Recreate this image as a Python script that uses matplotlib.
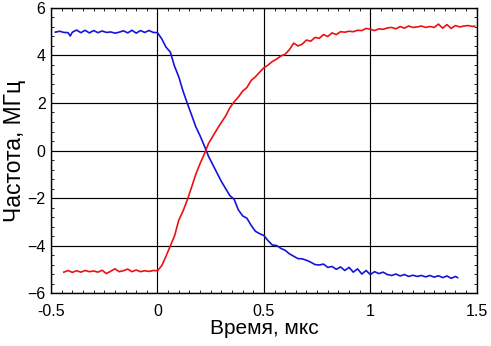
import matplotlib
matplotlib.use('Agg')
import matplotlib.pyplot as plt
from matplotlib.ticker import MultipleLocator

plt.rcParams['font.family'] = ['Liberation Sans', 'DejaVu Sans']

# --- data ---
blue_t = [-0.48, -0.46, -0.44, -0.42, -0.41, -0.40, -0.38, -0.36, -0.34, -0.32, -0.30,
          -0.28, -0.26, -0.24, -0.22, -0.20, -0.18, -0.16, -0.14, -0.12, -0.10,
          -0.08, -0.06, -0.04, -0.02, 0.00, 0.02, 0.04, 0.06, 0.08, 0.10,
          0.12, 0.14, 0.16, 0.18, 0.20, 0.22, 0.24, 0.26, 0.28, 0.30,
          0.32, 0.34, 0.36, 0.38, 0.40, 0.42, 0.44, 0.46, 0.48, 0.50,
          0.52, 0.54, 0.56, 0.58, 0.60, 0.62, 0.64, 0.66, 0.68, 0.70,
          0.72, 0.74, 0.76, 0.78, 0.80, 0.82, 0.84, 0.86, 0.88, 0.90,
          0.92, 0.94, 0.96, 0.98, 1.00, 1.02, 1.04, 1.06, 1.08, 1.10,
          1.12, 1.14, 1.16, 1.18, 1.20, 1.22, 1.24, 1.26, 1.28, 1.30,
          1.32, 1.34, 1.36, 1.38, 1.40, 1.41]
blue_f = [4.98, 5.02, 4.97, 4.96, 4.82, 4.98, 5.07, 4.96, 5.06, 4.95, 5.05,
          4.96, 5.03, 4.97, 4.99, 4.94, 4.98, 5.04, 4.95, 5.06, 4.94,
          5.05, 4.97, 5.05, 4.97, 4.96, 4.70, 4.35, 4.15, 3.55, 3.10,
          2.50, 1.99, 1.50, 1.00, 0.62, 0.20, -0.25, -0.60, -0.95, -1.30,
          -1.60, -1.90, -2.05, -2.50, -2.75, -2.85, -3.15, -3.40, -3.50, -3.58,
          -3.80, -3.98, -4.00, -4.12, -4.20, -4.35, -4.45, -4.55, -4.56, -4.62,
          -4.70, -4.80, -4.82, -4.78, -4.92, -4.88, -5.00, -4.90, -5.05, -4.92,
          -5.12, -4.98, -5.20, -5.05, -5.22, -5.10, -5.18, -5.12, -5.22, -5.26,
          -5.20, -5.28, -5.22, -5.30, -5.25, -5.30, -5.26, -5.32, -5.26, -5.33,
          -5.27, -5.35, -5.28, -5.38, -5.30, -5.35]

red_t = [-0.44, -0.42, -0.40, -0.38, -0.36, -0.34, -0.32, -0.30, -0.28, -0.26,
         -0.24, -0.22, -0.20, -0.18, -0.16, -0.14, -0.12, -0.10, -0.08, -0.06,
         -0.04, -0.02, 0.00, 0.02, 0.04, 0.06, 0.08, 0.10, 0.12, 0.14,
         0.16, 0.18, 0.20, 0.22, 0.24, 0.26, 0.28, 0.30, 0.32, 0.34,
         0.36, 0.38, 0.40, 0.42, 0.44, 0.46, 0.48, 0.50, 0.52, 0.54,
         0.56, 0.58, 0.60, 0.62, 0.64, 0.66, 0.68, 0.70, 0.72, 0.74,
         0.76, 0.78, 0.80, 0.82, 0.84, 0.86, 0.88, 0.90, 0.92, 0.94,
         0.96, 0.98, 1.00, 1.02, 1.04, 1.06, 1.08, 1.10, 1.12, 1.14,
         1.16, 1.18, 1.20, 1.22, 1.24, 1.26, 1.28, 1.30, 1.32, 1.34,
         1.36, 1.38, 1.40, 1.42, 1.44, 1.46, 1.48, 1.49]
red_f = [-5.12, -5.05, -5.13, -5.06, -5.12, -5.05, -5.10, -5.07, -5.12, -5.04,
         -5.18, -5.08, -4.98, -5.10, -5.06, -4.99, -5.10, -5.03, -5.10, -5.06,
         -5.09, -5.05, -5.06, -4.85, -4.45, -4.02, -3.60, -2.93, -2.55, -2.08,
         -1.55, -1.00, -0.55, -0.15, 0.30, 0.60, 0.90, 1.18, 1.45, 1.80,
         2.05, 2.25, 2.50, 2.65, 2.95, 3.10, 3.30, 3.48, 3.60, 3.75,
         3.85, 3.98, 4.05, 4.25, 4.52, 4.40, 4.48, 4.65, 4.60, 4.76,
         4.72, 4.88, 4.80, 4.95, 4.88, 5.00, 4.98, 5.02, 5.00, 5.06,
         5.05, 5.14, 5.10, 5.05, 5.12, 5.10, 5.16, 5.18, 5.12, 5.22,
         5.15, 5.24, 5.18, 5.20, 5.24, 5.18, 5.22, 5.18, 5.32, 5.15,
         5.30, 5.14, 5.26, 5.20, 5.24, 5.26, 5.22, 5.24]

x_ticks = [-0.5, 0, 0.5, 1, 1.5]
x_labels = ['-0.5', '0', '0.5', '1', '1.5']
y_ticks = [-6, -4, -2, 0, 2, 4, 6]

fig = plt.figure(figsize=(4.91, 3.46), dpi=100)
ax = fig.add_axes([0.104, 0.153, 0.867, 0.824])

ax.plot(blue_t, blue_f, color='#1414dc', lw=1.2)
ax.plot(red_t, red_f, color='#ee1010', lw=1.2)

ax.set_xlim(-0.5, 1.5)
ax.set_ylim(-6, 6)
ax.set_xticks(x_ticks)
ax.set_xticklabels(x_labels)
ax.set_yticks(y_ticks)
ax.xaxis.set_minor_locator(MultipleLocator(0.05))
ax.yaxis.set_minor_locator(MultipleLocator(0.4))
ax.tick_params(which='both', direction='in', top=True, right=True, labelsize=11.5)
ax.tick_params(axis='x', pad=8)
ax.tick_params(axis='y', pad=4)
ax.tick_params(which='major', length=0)
ax.tick_params(which='minor', length=2.5, width=0.6)
ax.grid(True, which='major', color='black', lw=0.85)
for s in ax.spines.values():
    s.set_linewidth(1.0)

ax.set_xlabel('Время, мкс', fontsize=15, labelpad=0)
ax.set_ylabel('Частота, МГц', fontsize=16.5, labelpad=1)

fig.savefig('out.png', dpi=100)
